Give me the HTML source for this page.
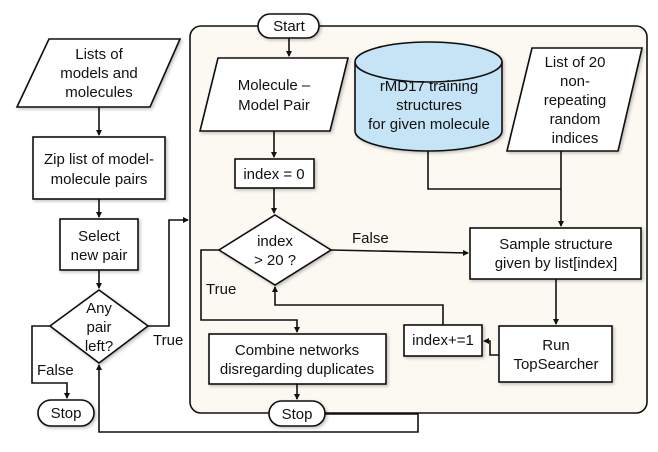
<!DOCTYPE html>
<html><head><meta charset="utf-8"><style>
html,body{margin:0;padding:0;background:#fff;}
svg{display:block;}
text{font-family:"Liberation Sans",sans-serif;font-size:15px;fill:#111;}
</style></head><body>
<svg width="658" height="452" viewBox="0 0 658 452" xmlns="http://www.w3.org/2000/svg">
<defs>
<marker id="a" markerWidth="6" markerHeight="6" refX="5" refY="3" orient="auto" markerUnits="userSpaceOnUse"><path d="M0,0 L6,3 L0,6 z" fill="#111"/></marker>
<filter id="s" x="-10%" y="-10%" width="130%" height="130%"><feDropShadow dx="1.5" dy="1.5" stdDeviation="1.5" flood-opacity="0.25"/></filter>
</defs>
<g stroke="#111" stroke-width="1.6" fill="none">
<rect x="190" y="26" width="457" height="387" rx="11" fill="#fcf9f2"/>
<path d="M289,38 V56" marker-end="url(#a)"/>
<path d="M274,131 V157" marker-end="url(#a)"/>
<path d="M274,188 V213" marker-end="url(#a)"/>
<path d="M331,250 L468,253" marker-end="url(#a)"/>
<path d="M428,151 V189 H561 M561,151 V226" marker-end="url(#a)"/>
<path d="M556,279 V324" marker-end="url(#a)"/>
<path d="M499,355 H490 V341 H484" marker-end="url(#a)"/>
<path d="M443,325 V305 H275 V287" marker-end="url(#a)"/>
<path d="M219,250 H201 V320 H297 V332" marker-end="url(#a)"/>
<path d="M297,384 V399" marker-end="url(#a)"/>
<path d="M325,414 H418 V432 H99 V365" marker-end="url(#a)"/>
<path d="M99,107 V135" marker-end="url(#a)"/>
<path d="M99,199 V217" marker-end="url(#a)"/>
<path d="M99,270 V288" marker-end="url(#a)"/>
<path d="M50,326 H32 V383 H67 V398" marker-end="url(#a)"/>
<path d="M148,326 H169 V220 H188" marker-end="url(#a)"/>
<g fill="#fff" filter="url(#s)">
<rect x="258" y="14" width="61" height="24" rx="12"/>
<polygon points="218,58 348,58 330,131 200,131"/>
<rect x="235" y="159" width="79" height="29"/>
<polygon points="275,215 331,250 275,285 219,250"/>
<rect x="470" y="228" width="171" height="51"/>
<path d="M355,62 V131 A73.5,20 0 0 0 502,131 V62 A73.5,20 0 0 0 355,62 Z" fill="#c5e4f5"/>
<polygon points="532,48 642,48 618,151 507,151"/>
<rect x="499" y="326" width="113" height="56"/>
<rect x="404" y="325" width="78" height="31"/>
<rect x="209" y="334" width="177" height="50"/>
<rect x="269" y="401" width="56" height="25" rx="12.5"/>
<polygon points="49,39 180,39 150,107 17,107"/>
<rect x="33" y="137" width="132" height="62"/>
<rect x="60" y="219" width="78" height="51"/>
<polygon points="99,290 148,326 99,363 50,326"/>
<rect x="38" y="400" width="56" height="26" rx="13"/>
</g>
<path d="M355,62 A73.5,20 0 0 0 502,62" />
</g>
<g text-anchor="middle">
<text x="289" y="31">Start</text>
<text x="274" y="90">Molecule –</text>
<text x="274" y="110">Model Pair</text>
<text x="274" y="179">index = 0</text>
<text x="275" y="246">index</text>
<text x="275" y="265">&gt; 20 ?</text>
<text x="429" y="91">rMD17 training</text>
<text x="429" y="110">structures</text>
<text x="429" y="129">for given molecule</text>
<text x="575" y="67">List of 20</text>
<text x="575" y="86">non-</text>
<text x="575" y="105">repeating</text>
<text x="575" y="124">random</text>
<text x="575" y="143">indices</text>
<text x="556" y="249">Sample structure</text>
<text x="556" y="268">given by list[index]</text>
<text x="556" y="350">Run</text>
<text x="556" y="369">TopSearcher</text>
<text x="443" y="345">index+=1</text>
<text x="297" y="355">Combine networks</text>
<text x="297" y="374">disregarding duplicates</text>
<text x="297" y="419">Stop</text>
<text x="99" y="59">Lists of</text>
<text x="99" y="78">models and</text>
<text x="99" y="97">molecules</text>
<text x="99" y="164">Zip list of model-</text>
<text x="99" y="184">molecule pairs</text>
<text x="99" y="241">Select</text>
<text x="99" y="260">new pair</text>
<text x="99" y="313">Any</text>
<text x="99" y="332">pair</text>
<text x="99" y="351">left?</text>
<text x="66" y="418">Stop</text>
</g>
<text x="352" y="243">False</text>
<text x="206" y="294">True</text>
<text x="37" y="375">False</text>
<text x="153" y="345">True</text>
</svg>
</body></html>
